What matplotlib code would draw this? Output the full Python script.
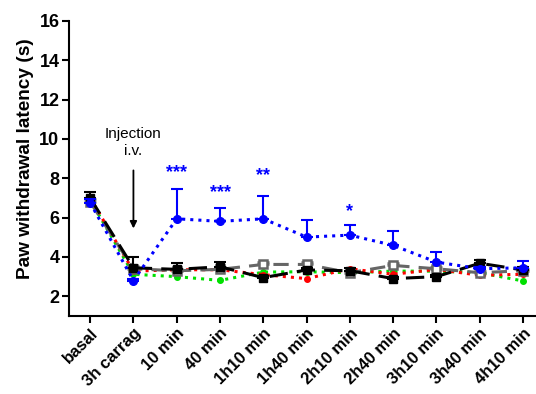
import matplotlib.pyplot as plt
import numpy as np

plt.rcParams["font.family"] = ["Liberation Sans", "DejaVu Sans"]
plt.rcParams["font.weight"] = "bold"

labels = ["basal", "3h carrag", "10 min", "40 min", "1h10 min", "1h40 min",
          "2h10 min", "2h40 min", "3h10 min", "3h40 min", "4h10 min"]

blue = [6.76, 2.8, 5.94, 5.81, 5.94, 5.01, 5.11, 4.59, 3.74, 3.4, 3.45]
blue_err = [0.2, 0.1, 1.49, 0.67, 1.15, 0.86, 0.51, 0.71, 0.51, 0.1, 0.34]
black = [7.0, 3.45, 3.37, 3.5, 2.95, 3.34, 3.3, 2.9, 3.0, 3.68, 3.34]
black_err = [0.3, 0.55, 0.33, 0.25, 0.1, 0.1, 0.15, 0.1, 0.1, 0.17, 0.15]
gray = [6.8, 3.4, 3.3, 3.37, 3.62, 3.62, 3.2, 3.57, 3.4, 3.2, 3.3]
gray_err = [0.15, 0.15, 0.1, 0.1, 0.1, 0.1, 0.1, 0.1, 0.1, 0.1, 0.1]
red = [7.0, 3.28, 3.35, 3.35, 3.1, 2.9, 3.4, 3.12, 3.37, 3.07, 3.12]
green = [6.9, 3.12, 3.0, 2.81, 3.23, 3.25, 3.2, 3.28, 3.28, 3.2, 2.78]

stars = {2: ("***", 8.3), 3: ("***", 7.25), 4: ("**", 8.15), 6: ("*", 6.3)}

x = np.arange(len(labels))

fig = plt.figure(figsize=(5.36, 3.94), dpi=100)
ax = fig.add_axes([0.129, 0.198, 0.871, 0.749])

ax.plot(x, green, ":", color="#00e000", lw=2.2, marker="o", ms=4, zorder=3)
ax.plot(x, red, ":", color="red", lw=2.2, marker="o", ms=4, zorder=3)
ax.errorbar(x, gray, yerr=[np.zeros(len(x)), gray_err], fmt="--s", color="#666666",
            mfc="white", mew=1.8, ms=6, lw=2.2, dashes=(5, 3), capsize=4,
            elinewidth=1.5, capthick=1.5, zorder=4)
ax.errorbar(x, black, yerr=[np.zeros(len(x)), black_err], fmt="--s", color="black",
            ms=6, lw=2.2, dashes=(6, 3), capsize=4, elinewidth=1.5,
            capthick=1.5, zorder=5)
ax.errorbar(x, blue, yerr=[np.zeros(len(x)), blue_err], fmt=":o", color="#0000ff",
            ms=5.5, lw=2.2, capsize=4, elinewidth=1.5, capthick=1.5, zorder=6)

for i, (s, yv) in stars.items():
    ax.text(x[i], yv, s, color="#0000ff", ha="center", va="center",
            fontsize=13, fontweight="bold")

ax.annotate("", xy=(1, 5.45), xytext=(1, 8.4),
            arrowprops=dict(arrowstyle="-|>", color="black", lw=1.3,
                            mutation_scale=10, shrinkA=0, shrinkB=0))
ax.text(1, 9.05, "Injection\ni.v.", ha="center", va="bottom", fontsize=11,
        fontweight="normal", linespacing=1.2)

ax.set_xlim(-0.485, 10.3)
ax.set_ylim(1, 16)
ax.set_yticks(np.arange(2, 17, 2))
ax.set_xticks(x)
ax.set_xticklabels(labels, rotation=45, ha="right", rotation_mode="anchor",
                   fontsize=12, fontweight="bold")
for t in ax.get_yticklabels():
    t.set_fontsize(13)
    t.set_fontweight("bold")
ax.set_ylabel("Paw withdrawal latency (s)", fontsize=13.7, fontweight="bold",
              labelpad=3)
ax.yaxis.set_label_coords(-0.075, 0.533)
ax.spines["top"].set_visible(False)
ax.spines["right"].set_visible(False)
ax.spines["left"].set_linewidth(1.5)
ax.spines["bottom"].set_linewidth(1.5)
ax.tick_params(direction="out", length=5, width=1.5, pad=2)

fig.savefig("out.png", dpi=100)
